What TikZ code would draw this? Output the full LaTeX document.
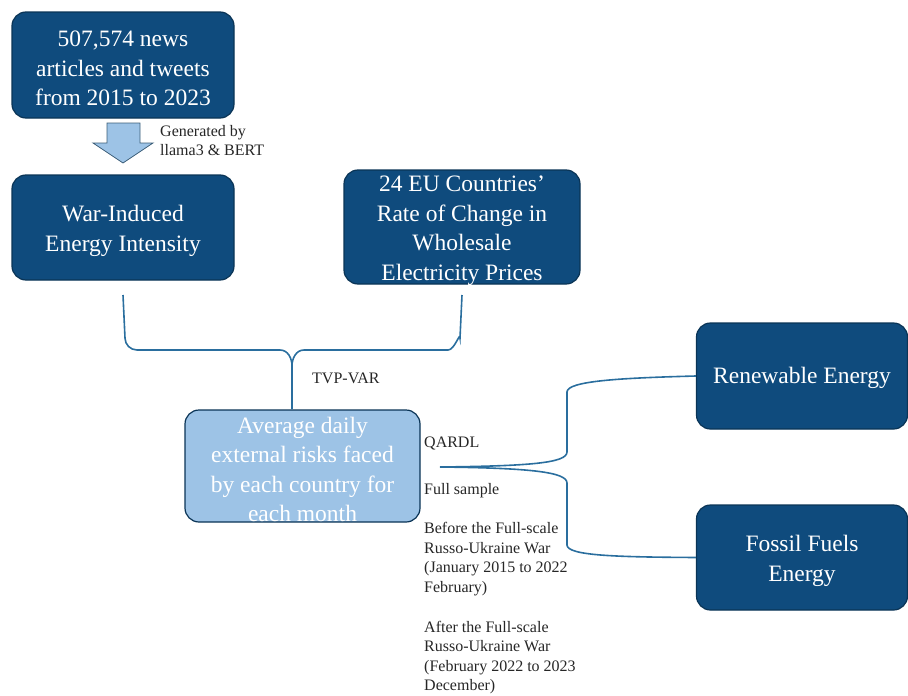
\documentclass[tikz,border=0pt]{standalone}
\usepackage{fontspec}
\setmainfont{Liberation Serif}
\definecolor{navy}{HTML}{0F4B7D}
\definecolor{navyline}{HTML}{0A3456}
\definecolor{sky}{HTML}{9DC3E6}
\definecolor{wire}{HTML}{2A6E9E}
\begin{document}
\begin{tikzpicture}[x=1pt, y=-1pt,
    darkbox/.style={draw=navyline, line width=1.2pt, fill=navy, rounded corners=14pt},
    lightbox/.style={darkbox, fill=sky},
    boxtext/.style={text=white, align=center, inner sep=0pt, yshift=-3.5pt,
        font=\fontsize{23.5}{29.5}\selectfont},
    link/.style={draw=wire, line width=1.6pt},
    note/.style={anchor=west, align=left, inner sep=0pt, text=black!85,
        font=\fontsize{16}{19.5}\selectfont}]
    \useasboundingbox (0,0) rectangle (908,696);
    % boxes
    \path (123,65) node[name=news, darkbox, minimum width=222, minimum height=106,
        label={[boxtext]center:{507,574 news\\articles and tweets\\from 2015 to 2023}}] {};
    \path (123,227.5) node[name=war, darkbox, minimum width=222, minimum height=105,
        label={[boxtext]center:{War-Induced\\Energy Intensity}}] {};
    \path (462,227) node[name=prices, darkbox, minimum width=236, minimum height=114,
        label={[boxtext]center:{24 EU Countries’\\Rate of Change in\\Wholesale\\Electricity Prices}}] {};
    \path (302.5,466) node[name=risk, lightbox, minimum width=235, minimum height=112,
        label={[boxtext]center:{Average daily\\external risks faced\\by each country for\\each month}}] {};
    \path (802,376) node[name=renew, darkbox, minimum width=211, minimum height=106,
        label={[boxtext, yshift=2pt]center:{Renewable Energy}}] {};
    \path (802,557.5) node[name=fossil, darkbox, minimum width=211, minimum height=105,
        label={[boxtext]center:{Fossil Fuels\\Energy}}] {};
    % block arrow
    \draw[navyline!80, fill=sky, line width=0.8pt] (107,123) -- (140,123) -- (140,143) -- (153,143)
        -- (123,163) -- (93,143) -- (107,143) -- cycle;
    % notes
    \path (160,140.5) node[name=gen, note] {Generated by\\llama3 \& BERT};
    \path (312,378) node[name=tvp, note] {TVP-VAR};
    \path (424,443) node[name=qardl, note] {QARDL};
    \path (424,491) node[name=full, note] {Full sample};
    \path (424,559) node[name=before, note]
        {Before the Full-scale\\Russo-Ukraine War\\(January 2015 to 2022\\February)};
    \path (424,657.5) node[name=after, note]
        {After the Full-scale\\Russo-Ukraine War\\(February 2022 to 2023\\December)};
    % brace into the risk box
    \coordinate (tip) at (292,366);
    \draw[link] (123,295) -- (125,338) to[out=-90, in=180] (137,350) -- (280,350)
        to[out=0, in=90] (tip) -- (risk.north -| tip);
    \draw[link] (prices.south |- 0,295) -- (460,338) to[out=90, in=0] (448,350) -- (304,350)
        to[out=180, in=90] (tip);
    % fork to the energy boxes
    \coordinate (fork) at (440,467);
    \draw[link] (fork) .. controls (530,466) and (567,463) .. (567,452) -- (567,392)
        .. controls (567,381) and (620,378) .. (renew.west);
    \draw[link] (fork) .. controls (530,468) and (567,472) .. (567,483) -- (567,545)
        .. controls (567,556) and (620,557) .. (fossil.west);
\end{tikzpicture}
\end{document}
